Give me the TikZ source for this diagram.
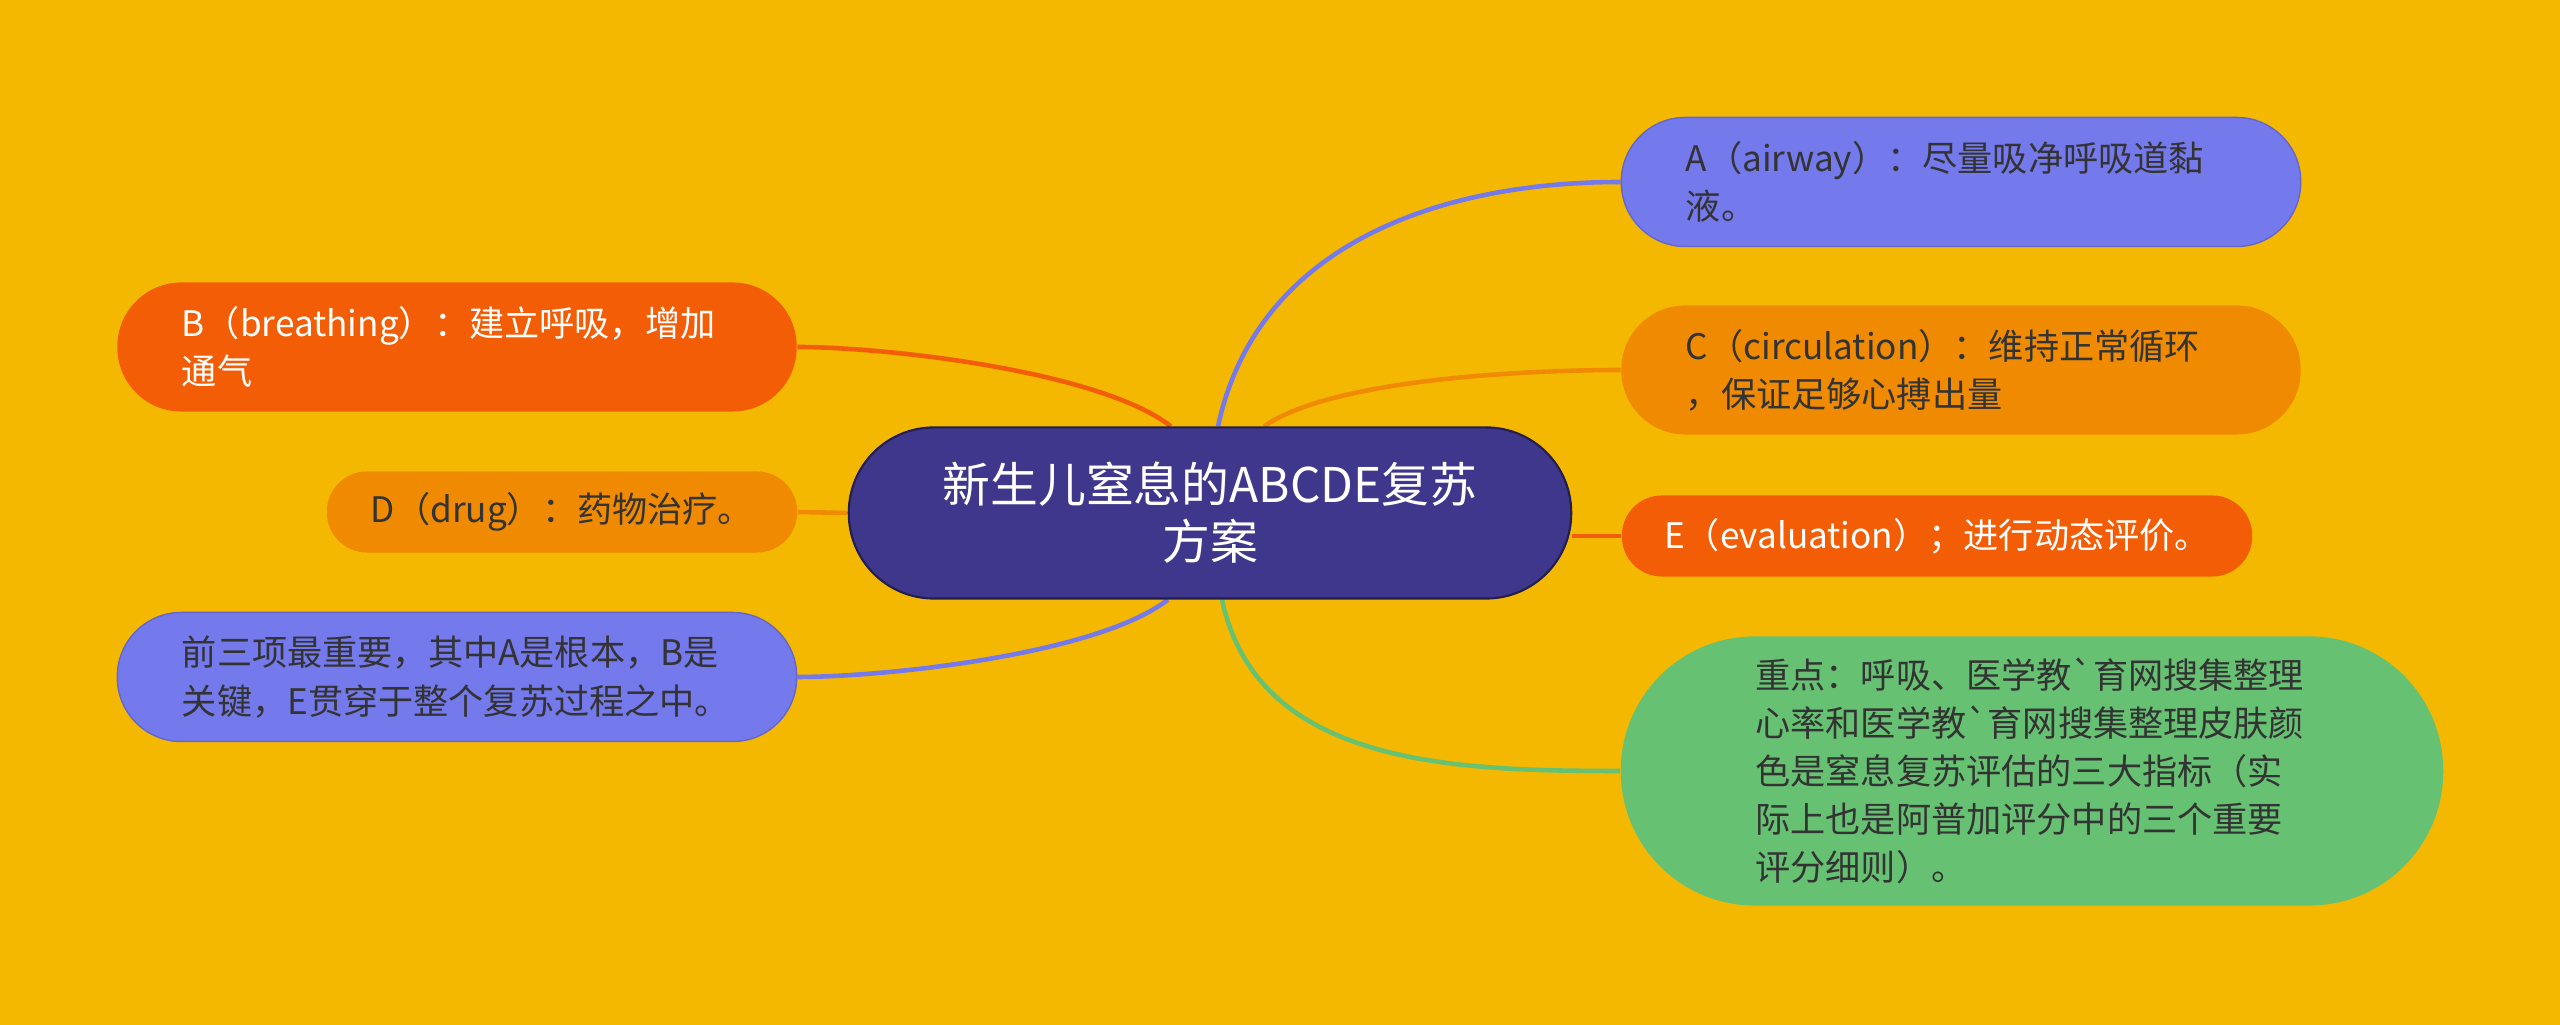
\documentclass[tikz,border=0pt]{standalone}
\usepackage{fontspec}
\setmainfont{Noto Sans CJK SC}[Ligatures=TeXOff]
\usetikzlibrary{calc}
\pgfdeclarelayer{back}
\pgfdeclarelayer{edges}
\pgfsetlayers{back,edges,main}
\definecolor{bgc}{RGB}{245,184,0}
\definecolor{rootc}{RGB}{62,55,140}
\definecolor{bluec}{RGB}{116,121,236}
\definecolor{orgc}{RGB}{240,138,0}
\definecolor{redc}{RGB}{242,93,5}
\definecolor{grnc}{RGB}{102,193,114}
\definecolor{txtc}{RGB}{51,51,51}

\begin{document}
\begin{tikzpicture}[x=.01cm,y=.01cm,
    pill/.style={rectangle,rounded corners=.64cm,minimum height=1.29cm,inner xsep=.645cm,inner ysep=0pt,
      text width=5.5cm,align=left,text=txtc,font=\fontsize{10pt}{13.7pt}\selectfont},
    short/.style={rectangle,rounded corners=.4cm,minimum height=.81cm,inner xsep=0pt,inner ysep=0pt,
      align=center,text=txtc,font=\fontsize{10pt}{13.7pt}\selectfont},
    link/.style={line width=1.3pt}]
  \begin{pgfonlayer}{back}
    \fill[bgc](0,0)rectangle(2560,1025);
  \end{pgfonlayer}
  \useasboundingbox(0,0)rectangle(2560,1025);
  % centre
  \node[rectangle,rounded corners=.85cm,minimum width=7.22cm,minimum height=1.71cm,fill=rootc,
    draw=rootc!55!black,line width=.6pt,text=white,align=center,
    font=\fontsize{13.6pt}{16.2pt}\selectfont](root)at(1210,512){新生儿窒息的ABCDE复苏\\方案};
  % right side
  \node[pill,fill=bluec,draw=bluec!85!black,line width=.4pt](nA)at(1961,843){A（airway）：尽量吸净呼吸道黏\\液。};
  \node[pill,fill=orgc](nC)at(1961,655){C（circulation）：维持正常循环\\，保证足够心搏出量};
  \node[short,fill=redc,text=white,minimum width=6.3cm](nE)at(1937,489){E（evaluation）；进行动态评价。};
  \node[pill,fill=grnc,rounded corners=1.34cm,minimum height=2.69cm,inner xsep=1.345cm,text width=5.53cm](nG)at(2032,254)
    {重点：呼吸、医学教`育网搜集整理\\心率和医学教`育网搜集整理皮肤颜\\色是窒息复苏评估的三大指标（实\\际上也是阿普加评分中的三个重要\\评分细则）。};
  % left side
  \node[pill,fill=redc,text=white](nB)at(457,678){B（breathing）：建立呼吸，增加\\通气};
  \node[short,fill=orgc,minimum width=4.7cm](nD)at(562,513){D（drug）：药物治疗。};
  \node[pill,fill=bluec,draw=bluec!85!black,line width=.4pt](nF)at(457,348){前三项最重要，其中A是根本，B是\\关键，E贯穿于整个复苏过程之中。};
  \begin{pgfonlayer}{edges}
    \draw[link,bluec]([xshift=.08cm]root.north)to[out=78,in=180](nA.west);
    \draw[link,orgc]([xshift=.54cm]root.north)to[out=35,in=180,looseness=.6](nC.west);
    \draw[link,redc](root.east|-nE.west)--(nE.west);
    \draw[link,grnc]([xshift=.12cm]root.south)to[out=-78,in=180](nG.west);
    \draw[link,redc]([xshift=-.39cm]root.north)to[out=142,in=0,looseness=.6](nB.east);
    \draw[link,orgc](root.west)--(nD.east);
    \draw[link,bluec]([xshift=-.42cm]root.south)to[out=-142,in=0,looseness=.6](nF.east);
  \end{pgfonlayer}
\end{tikzpicture}
\end{document}
